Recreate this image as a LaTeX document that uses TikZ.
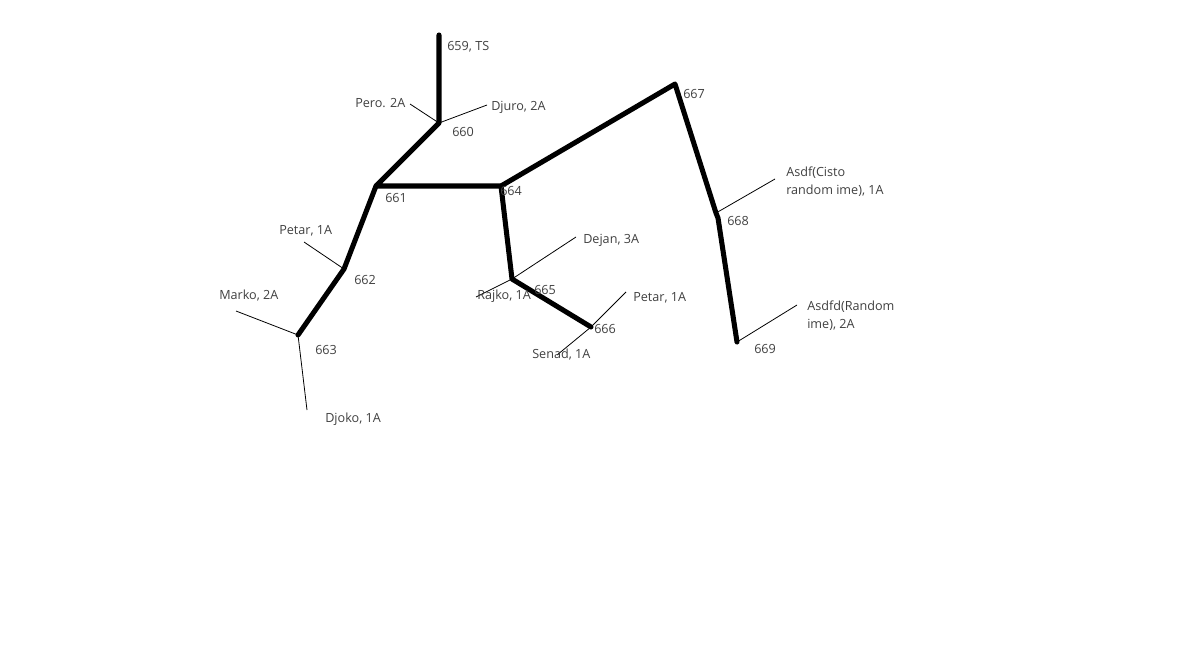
\documentclass[tikz,border=0pt]{standalone}
\usepackage{fontspec}
\setmainfont{Open Sans}
\usepackage{tikz}
\usetikzlibrary{positioning}
\definecolor{labelgray}{HTML}{404040}

\begin{document}
\begin{tikzpicture}[x=0.026458cm, y=-0.026458cm,
    trunk/.style={line width=3.8pt, black, line join=round, line cap=round},
    feeder/.style={line width=0.6pt, black},
    lbl/.style={anchor=west, inner sep=0pt, text=labelgray, font=\fontsize{9.5}{13.5}\selectfont, align=left}]
  % Set the picture size
  \useasboundingbox (0,0) rectangle (1183,655);

  % Poles of the line
  \coordinate (p659) at (439,35);
  \coordinate (p660) at (439,123);
  \coordinate (p661) at (376,186);
  \coordinate (p664) at (501,186);
  \coordinate (p667) at (675,84);
  \coordinate (p668) at (716,213);
  \coordinate (p668b) at (718,218);
  \coordinate (p669) at (737,342);
  \coordinate (p662) at (344,269);
  \coordinate (p663) at (298,335);
  \coordinate (p665) at (512,279);
  \coordinate (p666) at (591,327);

  % Draw the main line
  \draw[trunk] (p659) -- (p660) -- (p661) -- (p664) -- (p667) -- (p668) -- (p668b) -- (p669);
  \draw[trunk] (p661) -- (p662) -- (p663);
  \draw[trunk] (p664) -- (p665) -- (p666);

  % Free ends of the house connections
  \coordinate (pero) at (410,104);
  \coordinate (djuro) at (487,105);
  \coordinate (petarA) at (304,242);
  \coordinate (marko) at (236,311);
  \coordinate (djoko) at (307,410);
  \coordinate (dejan) at (576,237);
  \coordinate (rajko) at (476,297);
  \coordinate (petarB) at (626,292);
  \coordinate (senad) at (557,355);
  \coordinate (asdf) at (775,179);
  \coordinate (asdfd) at (797,305);

  % Draw the house connections
  \draw[feeder] (pero) -- (p660);
  \draw[feeder] (p660) -- (djuro);
  \draw[feeder] (petarA) -- (p662);
  \draw[feeder] (marko) -- (p663);
  \draw[feeder] (p663) -- (djoko);
  \draw[feeder] (p665) -- (dejan);
  \draw[feeder] (rajko) -- (p665);
  \draw[feeder] (p666) -- (petarB);
  \draw[feeder] (senad) -- (p666);
  \draw[feeder] (p668) -- (asdf);
  \draw[feeder] (p669) -- (asdfd);

  % Pole numbers
  \node[lbl] (t659) at (447,47) {659, TS};
  \node[lbl] (t660) at (452,132) {660};
  \node[lbl] (t661) at (385,198) {661};
  \node[lbl] (t664) at (500,191) {664};
  \node[lbl] (t662) at (354,280) {662};
  \node[lbl] (t663) at (315,350) {663};
  \node[lbl] (t665) at (534,290) {665};
  \node[lbl] (t666) at (594,329) {666};
  \node[lbl] (t667) at (683,94) {667};
  \node[lbl] (t668) at (727,221) {668};
  \node[lbl] (t669) at (754,349) {669};

  % Names of the houses
  \node[lbl] (tpero) at (355,103) {Pero. 2A};
  \node[lbl] (tdjuro) at (491,107) {Djuro, 2A};
  \node[lbl] (tpetarA) at (279,231) {Petar, 1A};
  \node[lbl] (tmarko) at (219,296) {Marko, 2A};
  \node[lbl] (tdjoko) at (325,419) {Djoko, 1A};
  \node[lbl] (tdejan) at (583,240) {Dejan, 3A};
  \node[lbl] (trajko) at (477,296) {Rajko, 1A};
  \node[lbl] (tpetarB) at (633,298) {Petar, 1A};
  \node[lbl] (tsenad) at (532,355) {Senad, 1A};
  \node[lbl, anchor=north west] (tasdf) at (786,167) {Asdf(Cisto\\random ime), 1A};
  \node[lbl, anchor=north west] (tasdfd) at (807,301) {Asdfd(Random\\ime), 2A};

\end{tikzpicture}
\end{document}
